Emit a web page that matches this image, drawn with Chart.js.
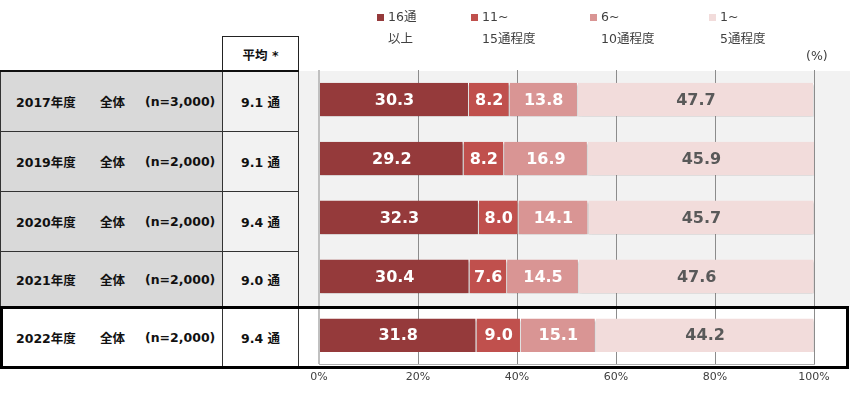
<!DOCTYPE html>
<html><head><meta charset="utf-8">
<script src="https://cdn.jsdelivr.net/npm/chart.js@4"></script>
<style>
body{margin:0;background:#fff;}
#wrap{position:relative;width:850px;height:404px;overflow:hidden;font-family:"DejaVu Sans","Noto Sans CJK JP",sans-serif;}
.abs{position:absolute;box-sizing:border-box;}
.cell{display:flex;align-items:center;font-weight:bold;font-size:12.5px;color:#111;}
.leg{font-size:12.5px;color:#404040;line-height:1;white-space:nowrap;}
.sq{width:7px;height:7px;}
</style></head>
<body><div id="wrap">
<div class="abs" style="left:298px;top:71px;width:552px;height:236px;background:#f2f2f2;"></div>
<div id="table"></div>
<canvas id="c" class="abs" width="850" height="404" style="left:0;top:0;width:850px;height:404px;"></canvas>
<div id="legend"></div>
<div class="abs" style="left:0;top:306px;width:849px;height:63px;border:3px solid #000;"></div>
</div>
<script>
const years = ["2017年度","2019年度","2020年度","2021年度","2022年度"];
const groupLabel = ["全体","全体","全体","全体","全体"];
const sampleN = ["(n=3,000)","(n=2,000)","(n=2,000)","(n=2,000)","(n=2,000)"];
const averages = ["9.1","9.1","9.4","9.0","9.4"];
const seriesNames = [["16通","以上"],["11~","15通程度"],["6~","10通程度"],["1~","5通程度"]];
const s16plus = [30.3,29.2,32.3,30.4,31.8];
const s11to15 = [8.2,8.2,8.0,7.6,9.0];
const s6to10 = [13.8,16.9,14.1,14.5,15.1];
const s1to5 = [47.7,45.9,45.7,47.6,44.2];
const xTicks = [0,20,40,60,80,100];

const colors = ["#953a3b","#c0504d","#d99594","#f2dcdb"];
const labelColors = ["#ffffff","#ffffff","#ffffff","#595959"];

// table
const tbl = document.getElementById('table');
const rowTops = [71,131,191,251,307];
const rowBottoms = [131,191,251,307,367];
function add(parent, style, html, cls){
  const d=document.createElement('div'); d.className='abs '+(cls||''); d.setAttribute('style',style); d.innerHTML=html||''; parent.appendChild(d); return d;
}
add(tbl,'left:222px;top:36px;width:77px;height:36px;border:1.5px solid #222;border-bottom:none;justify-content:center;','平均 *','cell');
years.forEach((y,i)=>{
  const top=rowTops[i], h=rowBottoms[i]-top;
  const last = i===years.length-1;
  const bg1 = last?'#ffffff':'#d9d9d9', bg2 = last?'#ffffff':'#f2f2f2';
  add(tbl,`left:0;top:${top}px;width:223px;height:${h+1}px;background:${bg1};border:1.5px solid #333;`,'','');
  add(tbl,`left:222px;top:${top}px;width:77px;height:${h+1}px;background:${bg2};border:1.5px solid #333;`,'','');
  add(tbl,`left:16px;top:${top}px;height:${h}px;`,y,'cell');
  add(tbl,`left:100px;top:${top}px;height:${h}px;`,groupLabel[i],'cell');
  add(tbl,`left:145px;top:${top}px;height:${h}px;`,sampleN[i],'cell');
  add(tbl,`left:222px;top:${top}px;width:77px;height:${h}px;justify-content:center;`,averages[i]+' 通','cell');
});
add(tbl,'left:0;top:70px;width:299px;height:2px;background:#111;','','');

// legend
const leg=document.getElementById('legend');
const legX=[377,471,590,709];
seriesNames.forEach((n,i)=>{
  add(leg,`left:${legX[i]}px;top:14px;background:${colors[i]};`,'','sq');
  add(leg,`left:${legX[i]+11}px;top:11px;`,n[0],'leg');
  add(leg,`left:${legX[i]+11}px;top:33px;`,n[1],'leg');
});
add(leg,'left:806px;top:50px;',"(%)",'leg');

const valueLabels = {
  id:'valueLabels',
  afterDatasetsDraw(chart){
    const ctx=chart.ctx;
    ctx.save();
    ctx.font='bold 16px "DejaVu Sans", sans-serif';
    ctx.textAlign='center'; ctx.textBaseline='middle';
    chart.data.datasets.forEach((ds,di)=>{
      chart.getDatasetMeta(di).data.forEach((bar,i)=>{
        const p=bar.getProps(['x','y','base'],true);
        ctx.fillStyle=labelColors[di];
        ctx.fillText(ds.data[i].toFixed(1),(p.x+p.base)/2,p.y+1);
      });
    });
    ctx.restore();
  }
};
const barShadow = {
  id:'barShadow',
  beforeDatasetsDraw(chart){
    const ctx=chart.ctx; ctx.save();
    ctx.shadowColor='rgba(0,0,0,0.35)'; ctx.shadowOffsetY=2; ctx.shadowOffsetX=0; ctx.shadowBlur=2;
  },
  afterDatasetsDraw(chart){ chart.ctx.restore(); }
};

const seriesData=[s16plus,s11to15,s6to10,s1to5];
new Chart(document.getElementById('c'),{
  type:'bar',
  data:{
    labels:years,
    datasets:seriesData.map((d,i)=>({
      label:seriesNames[i].join(''),
      data:d,
      backgroundColor:colors[i],
      borderColor:'rgba(255,255,255,0.9)',
      borderWidth:{left:0,right:1,top:0,bottom:0},
      borderSkipped:false,
      barPercentage:0.57,
      categoryPercentage:1.0
    }))
  },
  options:{
    indexAxis:'y',
    responsive:false,
    animation:false,
    devicePixelRatio:1,
    layout:{padding:{left:319,right:36,top:70,bottom:14}},
    plugins:{legend:{display:false},tooltip:{enabled:false}},
    scales:{
      x:{
        stacked:true,min:0,max:100,
        afterBuildTicks(axis){ axis.ticks = xTicks.map(v=>({value:v})); },
        ticks:{callback:v=>v+'%',color:'#404040',font:{family:'"DejaVu Sans", sans-serif',size:11},padding:6,maxRotation:0},
        grid:{color:ctx=>ctx.index===0?'#c0c0c0':'#8c8c8c',lineWidth:ctx=>ctx.index===0?2:1,drawTicks:false},
        border:{display:true,color:'#b0b0b0',width:1}
      },
      y:{stacked:true,display:false,grid:{display:false}}
    }
  },
  plugins:[barShadow,valueLabels]
});
</script>
</body></html>
